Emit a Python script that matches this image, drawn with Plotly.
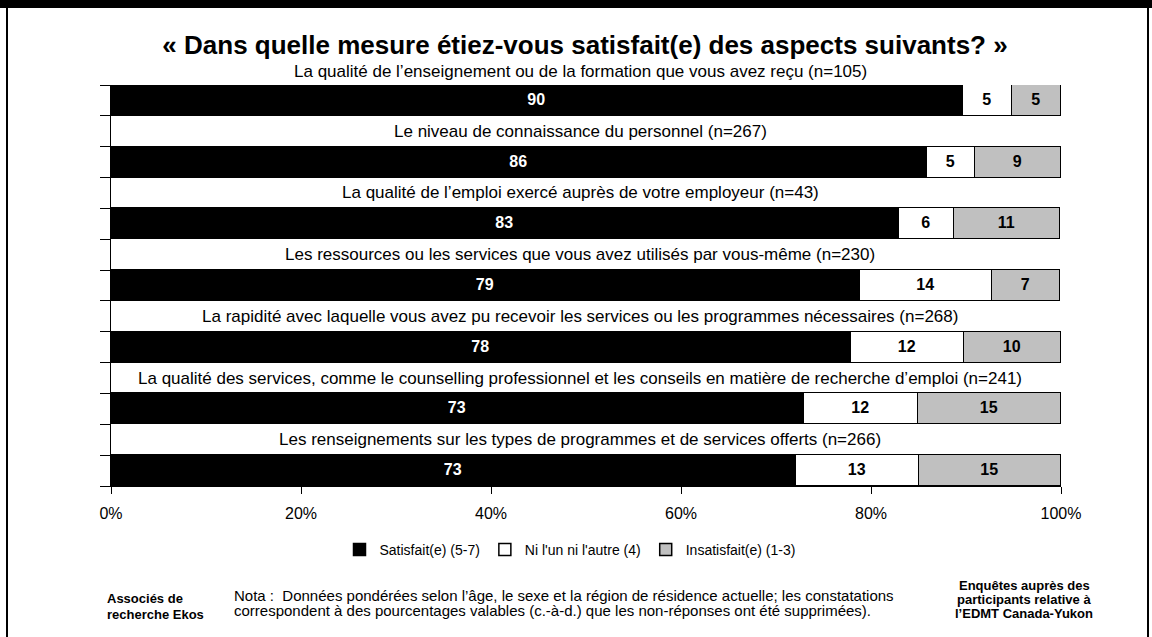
import plotly.graph_objects as go

# ---- data ----
categories = [
    "La qualité de l’enseignement ou de la formation que vous avez reçu (n=105)",
    "Le niveau de connaissance du personnel (n=267)",
    "La qualité de l’emploi exercé auprès de votre employeur (n=43)",
    "Les ressources ou les services que vous avez utilisés par vous-même (n=230)",
    "La rapidité avec laquelle vous avez pu recevoir les services ou les programmes nécessaires (n=268)",
    "La qualité des services, comme le counselling professionnel et les conseils en matière de recherche d’emploi (n=241)",
    "Les renseignements sur les types de programmes et de services offerts (n=266)",
]
# segment widths (%)
satisfait = [89.7, 85.9, 82.9, 78.8, 77.9, 72.9, 72.1]
ni_lun = [5.1, 5.0, 5.8, 13.9, 11.9, 12.0, 12.9]
insatisfait = [5.2, 9.1, 11.2, 7.2, 10.2, 15.1, 15.0]
# printed labels
satisfait_lbl = [90, 86, 83, 79, 78, 73, 73]
ni_lun_lbl = [5, 5, 6, 14, 12, 12, 13]
insatisfait_lbl = [5, 9, 11, 7, 10, 15, 15]

series_names = ["Satisfait(e) (5-7)", "Ni l'un ni l'autre (4)", "Insatisfait(e) (1-3)"]
x_ticks = [0, 20, 40, 60, 80, 100]
x_tick_labels = ["0%", "20%", "40%", "60%", "80%", "100%"]

title = "« Dans quelle mesure étiez-vous satisfait(e) des aspects suivants? »"
footer_left = ["Associés de", "recherche Ekos"]
footer_mid = ["Nota :  Données pondérées selon l’âge, le sexe et la région de résidence actuelle; les constatations",
              "correspondent à des pourcentages valables (c.-à-d.) que les non-réponses ont été supprimées)."]
footer_right = ["Enquêtes auprès des", "participants relative à", "l’EDMT Canada-Yukon"]

# ---- layout geometry (pixels) ----
W, H = 1152, 637
PL, PR, PT, PB = 111, 1061, 85, 486
SANS = "Liberation Sans, Arial, sans-serif"


def px(xp):
    return (xp - PL) / (PR - PL)


def py(yp):
    return (PB - yp) / (PB - PT)


n_rows = 2 * len(categories) - 1
row_h = (PB - PT) / n_rows
ypos = [2 * i for i in range(len(categories))]

fig = go.Figure()
fills = ["#000000", "#FFFFFF", "#C0C0C0"]
txtcol = ["#FFFFFF", "#000000", "#000000"]
for vals, lbls, name, fc, tc in zip(
    [satisfait, ni_lun, insatisfait],
    [satisfait_lbl, ni_lun_lbl, insatisfait_lbl],
    series_names, fills, txtcol,
):
    fig.add_trace(go.Bar(
        x=vals, y=ypos, orientation="h", width=1, name=name,
        marker=dict(color=fc, line=dict(color="#000000", width=1.5)),
        text=[str(v) for v in lbls], textposition="inside",
        insidetextanchor="middle", textangle=0,
        textfont=dict(family=SANS, size=16, color=tc, weight="bold"),
        hoverinfo="skip",
    ))

annotations = []
for i, cat in enumerate(categories):
    yrow = 2 * i - 1
    ypix = PT + (yrow + 0.5) * row_h + (2 if i == 0 else 0)
    annotations.append(dict(
        x=px(580), xref="paper", y=py(ypix), yref="paper",
        text=cat, showarrow=False, xanchor="center", yanchor="middle",
        font=dict(family=SANS, size=17, color="#000000"),
    ))

for txt, yy in zip(footer_left, [598, 614]):
    annotations.append(dict(x=px(105), y=py(yy), xref="paper", yref="paper", text="<b>" + txt + "</b>",
                            showarrow=False, xanchor="left", yanchor="middle",
                            font=dict(family=SANS, size=13, color="#000000")))
for txt, yy in zip(footer_mid, [595, 610]):
    annotations.append(dict(x=px(232), y=py(yy), xref="paper", yref="paper", text=txt,
                            showarrow=False, xanchor="left", yanchor="middle",
                            font=dict(family=SANS, size=15, color="#000000")))
for txt, yy in zip(footer_right, [585, 599, 613]):
    annotations.append(dict(x=px(1024), y=py(yy), xref="paper", yref="paper", text="<b>" + txt + "</b>",
                            showarrow=False, xanchor="center", yanchor="middle",
                            font=dict(family=SANS, size=13, color="#000000")))

shapes = [
    # top black band
    dict(type="rect", xref="paper", yref="paper", x0=px(0), x1=px(W), y0=py(0), y1=py(8),
         fillcolor="#000000", line=dict(width=0), layer="above"),
    # left frame line
    dict(type="line", xref="paper", yref="paper", x0=px(7), x1=px(7), y0=py(0), y1=py(H),
         line=dict(color="#000000", width=2)),
    # right frame line
    dict(type="line", xref="paper", yref="paper", x0=px(1148), x1=px(1148), y0=py(0), y1=py(H),
         line=dict(color="#000000", width=2)),
]

fig.update_layout(
    width=W, height=H,
    margin=dict(l=PL, r=W - PR, t=PT, b=H - PB, pad=0),
    paper_bgcolor="#FFFFFF", plot_bgcolor="#FFFFFF",
    barmode="stack", bargap=0,
    title=dict(text="<b>" + title + "</b>", x=585 / W, xanchor="center", y=1 - 45 / H, yanchor="middle",
               font=dict(family=SANS, size=26, color="#000000")),
    showlegend=True,
    legend=dict(orientation="h", x=px(570), xanchor="center", y=py(550), yanchor="middle",
                font=dict(family=SANS, size=14, color="#000000"),
                itemwidth=30, traceorder="normal", bgcolor="rgba(0,0,0,0)"),
    xaxis=dict(range=[0, 100], tickvals=x_ticks, ticktext=x_tick_labels,
               ticks="outside", ticklen=7, tickcolor="#000000", tickwidth=1,
               showgrid=False, zeroline=False, showline=True, linecolor="#000000", linewidth=1,
               ticklabelstandoff=6,
               tickfont=dict(family=SANS, size=16, color="#000000")),
    yaxis=dict(range=[n_rows - 0.5, -0.5], tickvals=[k - 0.5 for k in range(n_rows + 1)],
               ticktext=[""] * (n_rows + 1), ticks="outside", ticklen=10, tickcolor="#000000", tickwidth=1,
               showgrid=False, zeroline=False, showline=True, linecolor="#000000", linewidth=1),
    annotations=annotations, shapes=shapes,
    font=dict(family=SANS, color="#000000"),
)

fig.write_html("out.html")
